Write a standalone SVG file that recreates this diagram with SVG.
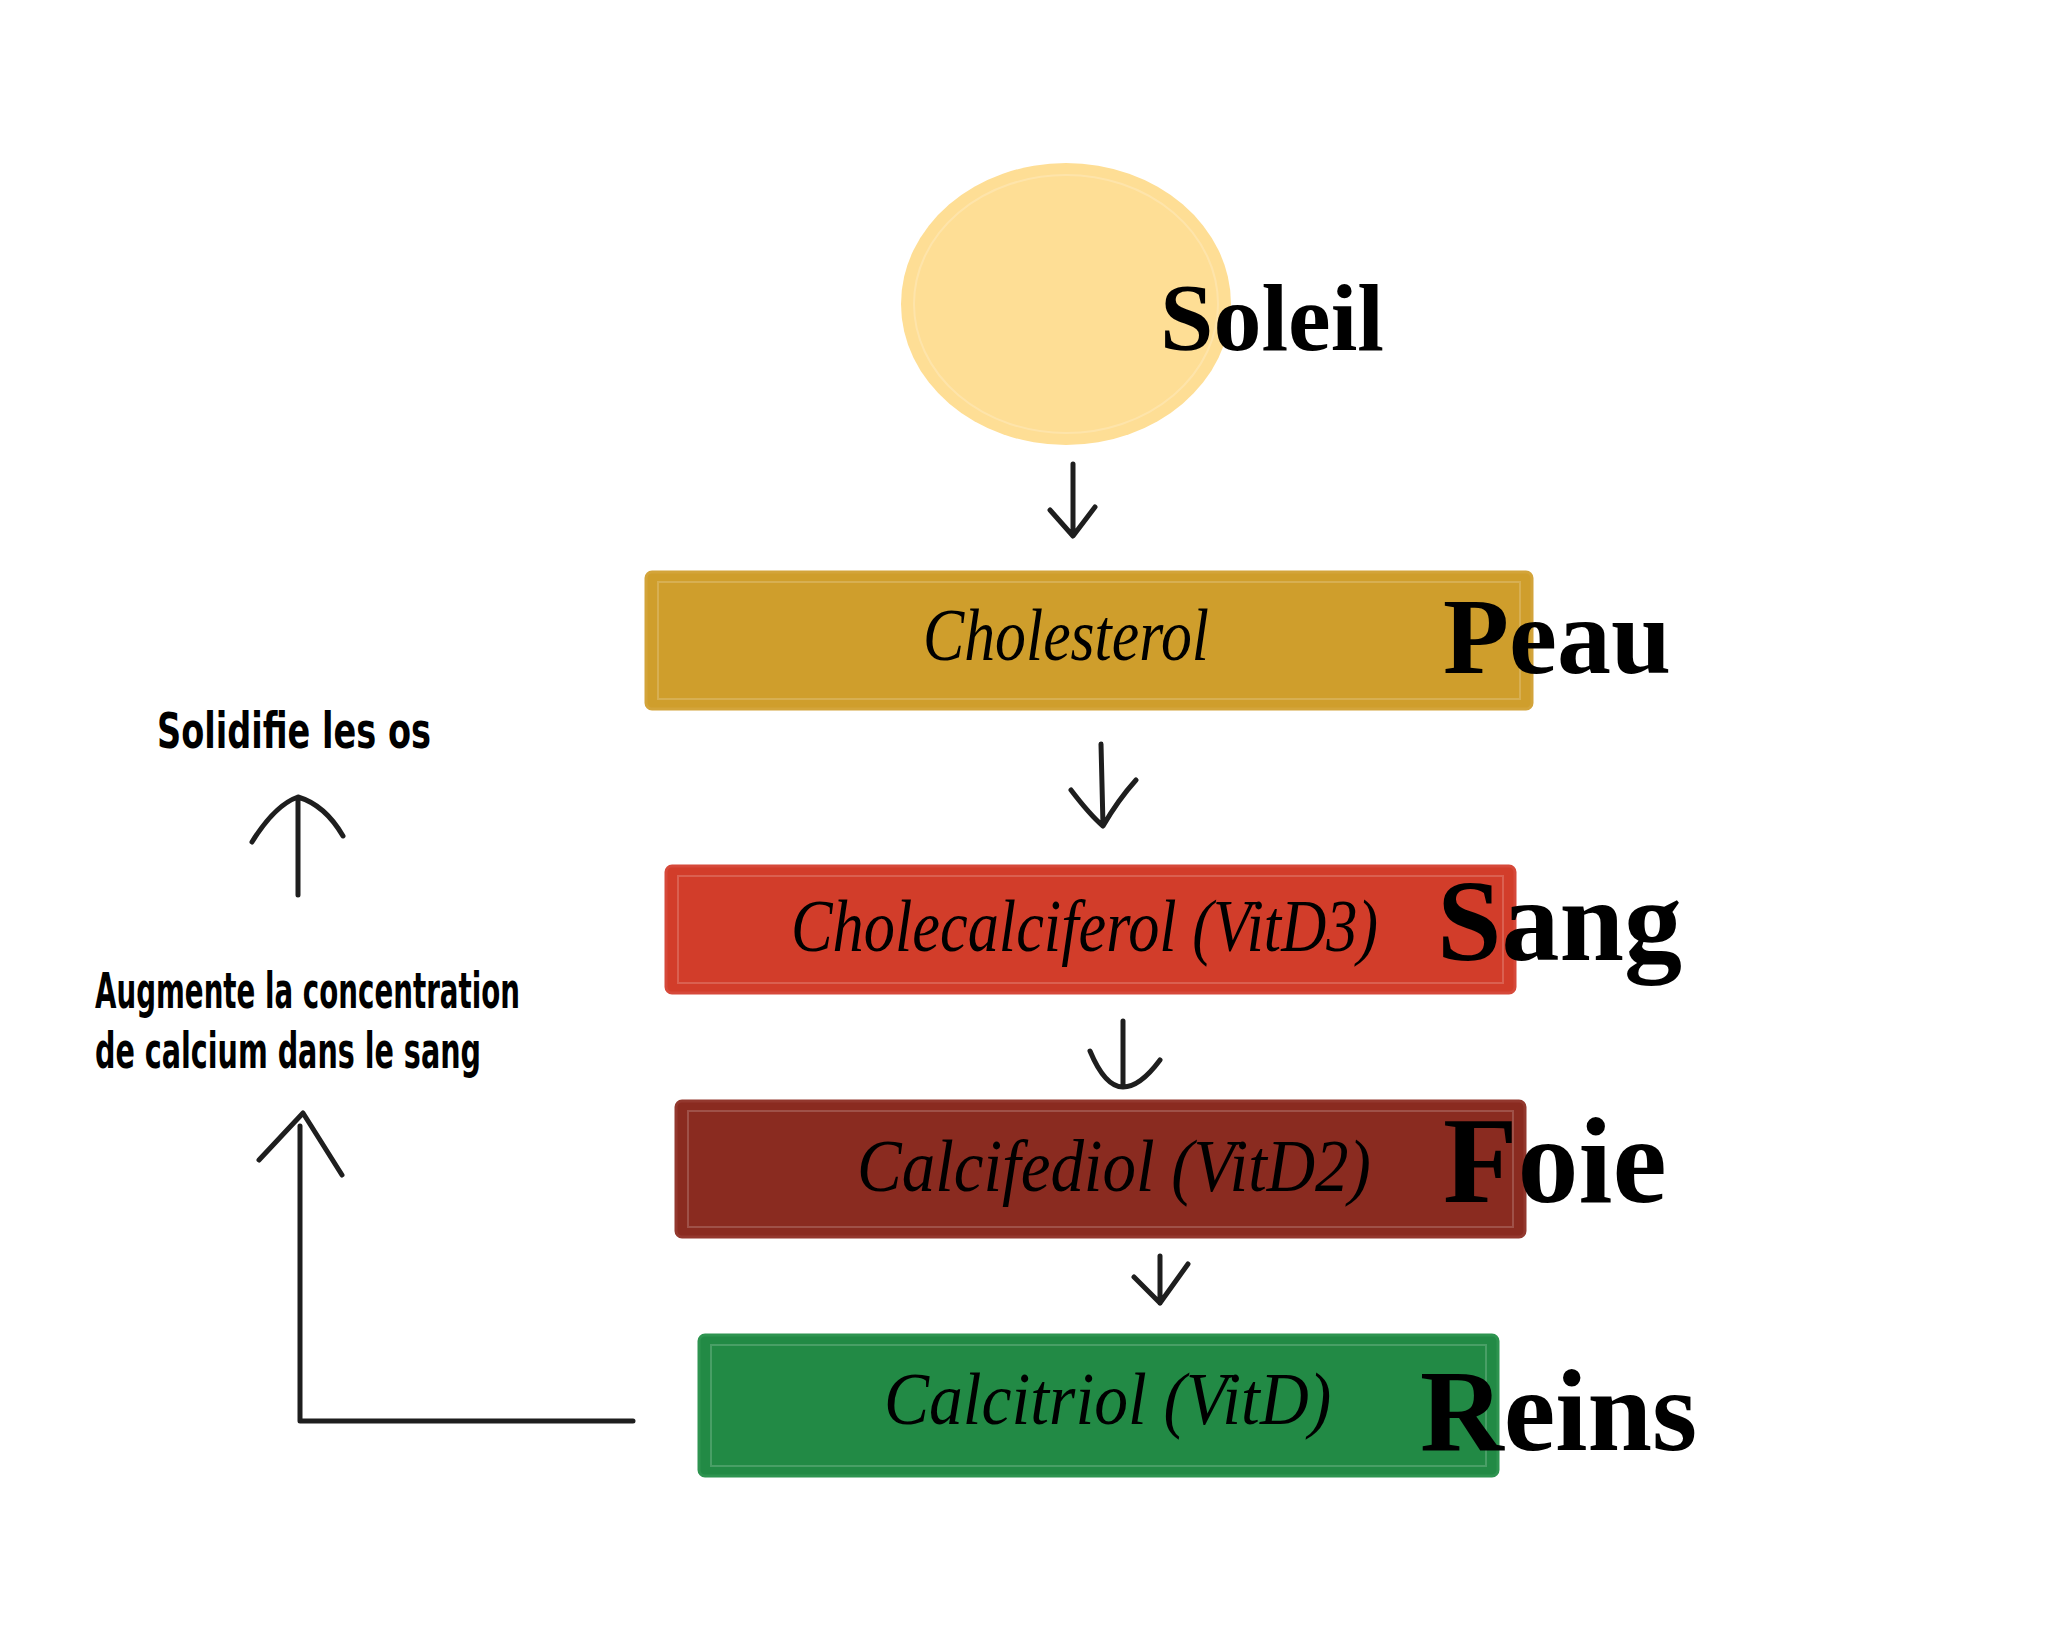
<svg xmlns="http://www.w3.org/2000/svg" width="2048" height="1638" viewBox="0 0 2048 1638">
<style>
.box{stroke-width:3}
.inner{fill:none;stroke:#ffffff;stroke-opacity:0.18;stroke-width:2}
.lbl{font-family:"Liberation Serif",serif;font-style:italic;font-size:74px;fill:#000}
.org{font-family:"Liberation Serif",serif;font-weight:bold;fill:#000}
.note{font-family:"DejaVu Sans Condensed","Liberation Sans",sans-serif;font-weight:bold;font-size:50px;fill:#000}
.pen{fill:none;stroke:#1e1e1e;stroke-width:5;stroke-linecap:round;stroke-linejoin:round}
</style>
<rect width="2048" height="1638" fill="#ffffff"/>
<g id="soleil">
<ellipse cx="1066" cy="304" rx="165" ry="141" fill="#FEDE95"/>
<ellipse cx="1066" cy="304" rx="152" ry="129" fill="none" stroke="#ffffff" stroke-opacity="0.2" stroke-width="2"/>
<text class="org" x="1160" y="350" font-size="96">Soleil</text>
</g>
<g id="peau">
<rect class="box" x="646" y="572" width="886" height="137" rx="6" fill="#CF9E2C" stroke="#D3A43A"/>
<rect class="inner" x="658" y="582" width="862" height="117"/>
<text class="lbl" transform="translate(923 660) scale(0.835 1)">Cholesterol</text>
<text class="org" x="1443" y="673" font-size="108">Peau</text>
</g>
<g id="sang">
<rect class="box" x="666" y="866" width="849" height="127" rx="6" fill="#D23D2A" stroke="#D6493A"/>
<rect class="inner" x="678" y="876" width="825" height="107"/>
<text class="lbl" transform="translate(791 951) scale(0.843 1)">Cholecalciferol (VitD3)</text>
<text class="org" x="1437" y="960" font-size="116">Sang</text>
</g>
<g id="foie">
<rect class="box" x="676" y="1101" width="849" height="136" rx="6" fill="#8A2B20" stroke="#93382E"/>
<rect class="inner" x="688" y="1111" width="825" height="116"/>
<text class="lbl" font-size="78" transform="translate(857 1191) scale(0.905 1)">Calcifediol (VitD2)</text>
<text class="org" x="1443" y="1202" font-size="122">Foie</text>
</g>
<g id="reins">
<rect class="box" x="699" y="1335" width="799" height="141" rx="6" fill="#228A45" stroke="#2E9450"/>
<rect class="inner" x="711" y="1345" width="775" height="121"/>
<text class="lbl" transform="translate(884 1424) scale(0.913 1)">Calcitriol (VitD)</text>
<text class="org" x="1420" y="1450" font-size="116">Reins</text>
</g>
<g id="effets">
<text class="note" x="157" y="748" textLength="274" lengthAdjust="spacingAndGlyphs">Solidifie les os</text>
<text class="note" x="95" y="1008" font-size="46" textLength="425" lengthAdjust="spacingAndGlyphs">Augmente la concentration</text>
<text class="note" x="95" y="1068" font-size="46" textLength="386" lengthAdjust="spacingAndGlyphs">de calcium dans le sang</text>
</g>
<g id="connecteurs">
<path class="pen" d="M1073 464 V535 M1050 510 L1073 536 L1095 507"/>
<path class="pen" d="M1101 744 L1103 825 M1071 790 Q1090 815 1103 826 Q1118 800 1136 780"/>
<path class="pen" d="M1123 1021 V1085 M1090 1051 Q1105 1087 1123 1087 Q1140 1087 1160 1060"/>
<path class="pen" d="M1160 1256 V1303 M1134 1277 L1160 1303 L1188 1264"/>
<path class="pen" d="M298 895 V797 M252 842 Q275 805 298 797 Q325 805 343 836"/>
<path class="pen" d="M633 1421 H300 V1126 M259 1160 L303 1113 L342 1175"/>
</g>
</svg>
